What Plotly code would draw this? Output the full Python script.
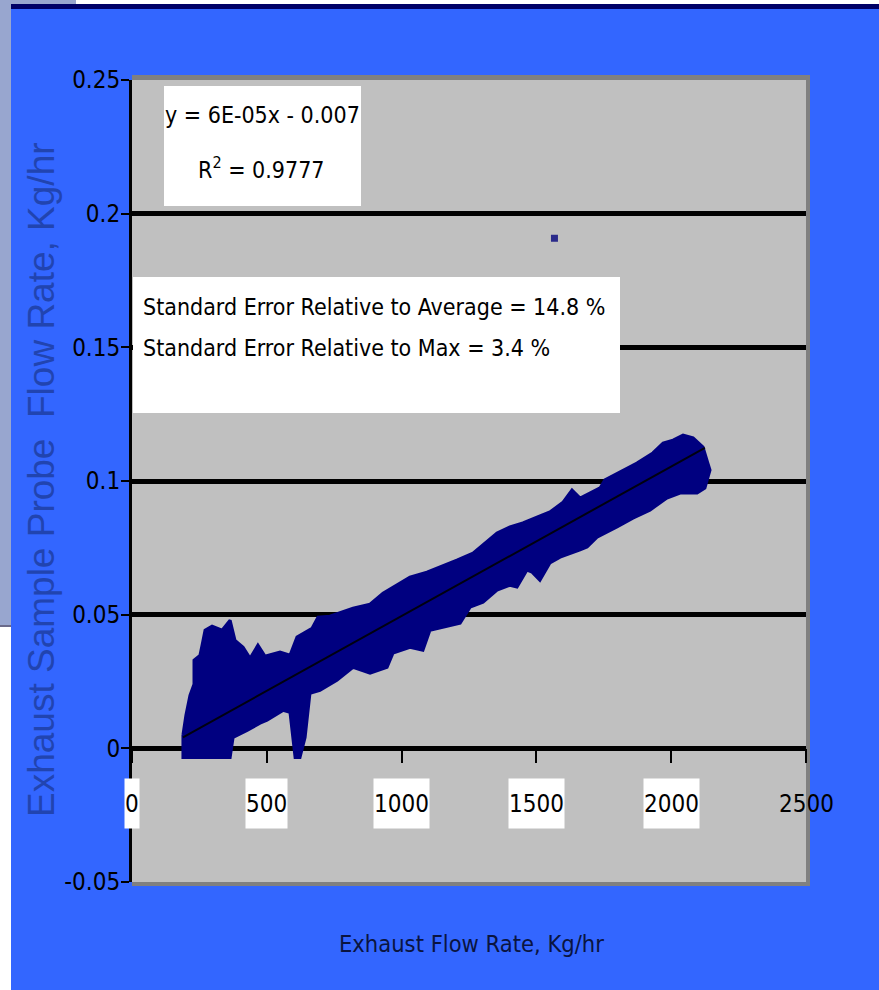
import plotly.graph_objects as go

# ---- data ----
# dense point cloud: upper edge (left -> right) and lower edge (right -> left)
upper_x = [189, 200, 215, 230, 230, 252, 260, 271, 297, 334, 364, 382, 412, 438, 467,
           493, 549, 586, 612, 642, 668, 690, 734, 820, 883, 931, 994, 1031, 1094, 1142,
           1205, 1265, 1302, 1354, 1402, 1450, 1502, 1550, 1599, 1632, 1662, 1736, 1754,
           1821, 1873, 1932, 1970, 2007, 2044, 2081, 2118, 2136, 2144]
upper_y = [0.005, 0.0124, 0.0198, 0.024, 0.033, 0.0348, 0.0386, 0.0442, 0.0457, 0.0442,
           0.0479, 0.0404, 0.0378, 0.0337, 0.0386, 0.0345, 0.036, 0.0348, 0.0416, 0.0434,
           0.0449, 0.0491, 0.0494, 0.0524, 0.0539, 0.058, 0.0618, 0.064, 0.0659, 0.0678,
           0.0704, 0.073, 0.076, 0.0805, 0.0828, 0.0843, 0.0865, 0.0884, 0.0921, 0.0966,
           0.0936, 0.0974, 0.1004, 0.1041, 0.1067, 0.1105, 0.1142, 0.1153, 0.1172, 0.1161,
           0.1127, 0.1067, 0.1041]
lower_x = [2125, 2096, 2033, 1984, 1921, 1858, 1799, 1725, 1688, 1662, 1588, 1550, 1513,
           1484, 1465, 1428, 1402, 1354, 1302, 1254, 1217, 1154, 1105, 1079, 1031, 968,
           946, 883, 820, 760, 697, 660, 642, 623, 605, 586, 560, 501, 475, 427, 375, 364, 189]
lower_y = [0.0974, 0.0955, 0.0955, 0.0936, 0.0891, 0.0861, 0.0828, 0.079, 0.0753, 0.0742,
           0.0715, 0.0693, 0.0629, 0.0659, 0.0667, 0.0603, 0.061, 0.0592, 0.0547, 0.0528,
           0.0468, 0.0453, 0.0442, 0.0367, 0.0378, 0.0356, 0.0303, 0.0281, 0.0303, 0.0255,
           0.0217, 0.0206, 0.0041, -0.0034, -0.0034, 0.0135, 0.0142, 0.0105, 0.0094, 0.0067,
           0.0041, -0.0034, -0.0034]
# isolated outlier point
outlier_x = [1567]
outlier_y = [0.1908]
# linear trend line end points
trend_x = [189, 2125]
trend_y = [0.0041, 0.1124]

x_ticks = [0, 500, 1000, 1500, 2000, 2500]
x_tick_text = ["0", "500", "1000", "1500", "2000", "2500"]
y_ticks = [-0.05, 0, 0.05, 0.1, 0.15, 0.2, 0.25]
y_tick_text = ["-0.05", "0", "0.05", "0.1", "0.15", "0.2", "0.25"]

eq_text = "y = 6E-05x - 0.007"
r2_text = "R<sup>2</sup> = 0.9777"
se_avg_text = "Standard Error Relative to Average = 14.8 %"
se_max_text = "Standard Error Relative to Max = 3.4 %"
x_title = "Exhaust Flow Rate, Kg/hr"
y_title = "Exhaust Sample Probe  Flow Rate, Kg/hr"

# ---- layout geometry (pixels) ----
W, H = 879, 990
L, R, T, B = 132, 806, 80, 882


def px(x):
    return (x - L) / (R - L)


def py(y):
    return (B - y) / (B - T)


NARROW = "DejaVu Sans Condensed, Liberation Sans Narrow, Arial Narrow, sans-serif"
NAVY = "#000080"

fig = go.Figure()

fig.add_trace(go.Scatter(
    x=upper_x + lower_x + [upper_x[0]], y=upper_y + lower_y + [upper_y[0]],
    mode="lines", fill="toself", fillcolor=NAVY,
    line=dict(color=NAVY, width=3), hoverinfo="skip", showlegend=False))
fig.add_trace(go.Scatter(
    x=outlier_x, y=outlier_y, mode="markers",
    marker=dict(symbol="square", size=7, color="#2a2a8a"), showlegend=False))
fig.add_trace(go.Scatter(
    x=trend_x, y=trend_y, mode="lines",
    line=dict(color="#000010", width=2), showlegend=False))

shapes = []
# slide decorations
shapes.append(dict(type="rect", xref="paper", yref="paper", x0=px(0), x1=px(11), y0=py(625), y1=py(0),
                   fillcolor="#98a6cf", line_width=0, layer="below"))
shapes.append(dict(type="rect", xref="paper", yref="paper", x0=px(0), x1=px(11), y0=py(990), y1=py(627),
                   fillcolor="#ffffff", line_width=0, layer="below"))
shapes.append(dict(type="rect", xref="paper", yref="paper", x0=px(0), x1=px(11), y0=py(627), y1=py(625),
                   fillcolor="#6a6a8a", line_width=0, layer="below"))
shapes.append(dict(type="rect", xref="paper", yref="paper", x0=px(0), x1=px(76), y0=py(4), y1=py(0),
                   fillcolor="#98a6cf", line_width=0, layer="below"))
shapes.append(dict(type="rect", xref="paper", yref="paper", x0=px(76), x1=px(879), y0=py(4), y1=py(0),
                   fillcolor="#ffffff", line_width=0, layer="below"))
shapes.append(dict(type="rect", xref="paper", yref="paper", x0=px(11), x1=px(879), y0=py(9), y1=py(4),
                   fillcolor="#000066", line_width=0, layer="below"))
# plot-area shadow
shapes.append(dict(type="rect", xref="paper", yref="paper", x0=px(L), x1=px(R + 4), y0=py(T), y1=py(T - 5),
                   fillcolor="#808080", line_width=0, layer="below"))
shapes.append(dict(type="rect", xref="paper", yref="paper", x0=px(R), x1=px(R + 4), y0=py(B + 4), y1=py(T - 5),
                   fillcolor="#808080", line_width=0, layer="below"))
shapes.append(dict(type="rect", xref="paper", yref="paper", x0=px(L), x1=px(R + 4), y0=py(B + 4), y1=py(B),
                   fillcolor="#808080", line_width=0, layer="below"))
# text boxes
shapes.append(dict(type="rect", xref="paper", yref="paper", x0=px(164), x1=px(361), y0=py(206), y1=py(86),
                   fillcolor="#ffffff", line_width=0, layer="above"))
shapes.append(dict(type="rect", xref="paper", yref="paper", x0=px(133), x1=px(620), y0=py(413), y1=py(277),
                   fillcolor="#ffffff", line_width=0, layer="above"))

annotations = []
box_font = dict(family=NARROW, size=23, color="#000000")
annotations.append(dict(text=eq_text, xref="paper", yref="paper", x=px(262), y=py(115),
                        xanchor="center", yanchor="middle", showarrow=False, font=box_font))
annotations.append(dict(text=r2_text, xref="paper", yref="paper", x=px(261), y=py(168),
                        xanchor="center", yanchor="middle", showarrow=False, font=box_font))
annotations.append(dict(text=se_avg_text, xref="paper", yref="paper", x=px(141), y=py(307),
                        xanchor="left", yanchor="middle", showarrow=False, font=box_font))
annotations.append(dict(text=se_max_text, xref="paper", yref="paper", x=px(141), y=py(348),
                        xanchor="left", yanchor="middle", showarrow=False, font=box_font))
# x tick labels with white boxes at the zero line
for v, t in zip(x_ticks, x_tick_text):
    annotations.append(dict(text=t, x=v, y=0, xref="x", yref="y", xanchor="center", yanchor="top",
                            yshift=-30, showarrow=False, height=49, borderpad=0,
                            bgcolor=None if v == 2500 else "#ffffff",
                            font=dict(family=NARROW, size=24, color="#000000")))
# axis titles
annotations.append(dict(text=x_title, xref="paper", yref="paper", x=px(471), y=py(944),
                        xanchor="center", yanchor="middle", showarrow=False,
                        font=dict(family=NARROW, size=23.5, color="#0a1440")))
annotations.append(dict(text=y_title, xref="paper", yref="paper", x=px(41), y=py(480),
                        xanchor="center", yanchor="middle", textangle=-90, showarrow=False,
                        font=dict(family="Liberation Sans, Arial, sans-serif", size=37, color="#2144b0")))

fig.update_layout(
    width=W, height=H,
    margin=dict(l=L, r=W - R, t=T, b=H - B, pad=0),
    paper_bgcolor="#3366ff", plot_bgcolor="#c0c0c0",
    showlegend=False, shapes=shapes, annotations=annotations,
    xaxis=dict(range=[0, 2500], tickvals=x_ticks, showticklabels=False, showgrid=False,
               zeroline=False, showline=False, anchor="free", position=0.05 / 0.30,
               ticks="outside", ticklen=14, tickwidth=2, tickcolor="#000000"),
    yaxis=dict(range=[-0.05, 0.25], tickvals=y_ticks, ticktext=y_tick_text,
               showgrid=True, gridcolor="#000000", gridwidth=5, zeroline=False,
               showline=True, linecolor="#000000", linewidth=3,
               ticks="outside", ticklen=8, tickwidth=2, tickcolor="#000000",
               ticklabelstandoff=-4,
               tickfont=dict(family=NARROW, size=24, color="#000000")),
)

fig.write_html("out.html", config={"displayModeBar": False},
               post_script="document.body.style.margin='0px';document.body.style.padding='0px';")
